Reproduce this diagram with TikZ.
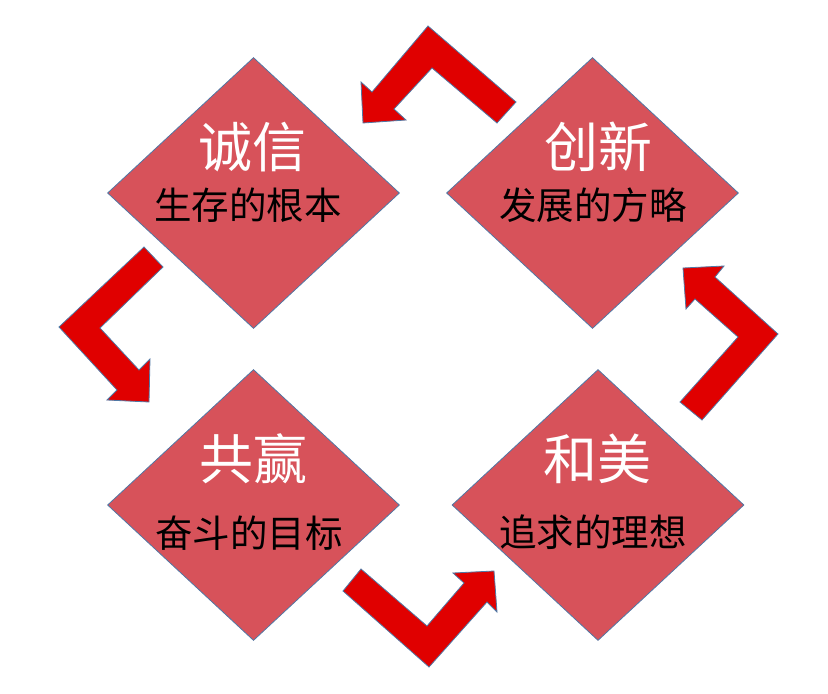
\documentclass[tikz,border=0pt]{standalone}
\usepackage{fontspec}
\newfontfamily\cjk{Noto Sans CJK SC}
\usetikzlibrary{shapes.geometric}
\definecolor{dfill}{RGB}{215,82,90}
\definecolor{edge}{RGB}{80,120,165}
\definecolor{arrred}{RGB}{224,0,0}
\tikzset{
  dia/.style={diamond, draw=edge, line width=0.8pt, fill=dfill, inner sep=0pt,
    minimum width=292pt, minimum height=271pt},
  ttl/.style={text=white, font=\cjk\fontsize{54}{58}\selectfont, inner sep=0pt},
  sub/.style={text=black, font=\cjk\fontsize{37.5}{41}\selectfont, inner sep=0pt},
  bent/.style={fill=arrred, draw=edge, line width=0.8pt, line join=miter}
}
\begin{document}
\begin{tikzpicture}[x=1pt,y=-1pt]
\useasboundingbox (0,0) rectangle (828,694);
% diamonds
\node[dia] (d1) at (253.5,193) {};
\node[dia] (d2) at (592.5,193) {};
\node[dia] (d3) at (253.5,505) {};
\node[dia] (d4) at (598,505) {};
% labels
\node[ttl] (t1) at (252,147) {诚信};
\node[sub] (s1) at (248,205) {生存的根本};
\node[ttl] (t2) at (598,147) {创新};
\node[sub] (s2) at (593,205) {发展的方略};
\node[ttl] (t3) at (253,459) {共赢};
\node[sub] (s3) at (249,533) {奋斗的目标};
\node[ttl] (t4) at (597.5,459) {和美};
\node[sub] (s4) at (593,532) {追求的理想};
% bent arrows
\draw[bent] (428,26) -- (516,102) -- (497,123) -- (432,68) -- (394,109)
  -- (406,120) -- (363,123) -- (361,82) -- (372,92) -- cycle;
\draw[bent] (59,327) -- (144,247) -- (163,267) -- (100,328) -- (139,370)
  -- (150,359) -- (149,402) -- (107,400) -- (117,390) -- cycle;
\draw[bent] (361,569) -- (427,626) -- (464,583) -- (453,573) -- (494,571)
  -- (497,612) -- (487,602) -- (429,667) -- (343,591) -- cycle;
\draw[bent] (683,268) -- (724,266) -- (715,277) -- (778,334) -- (702,420)
  -- (680,402) -- (738,337) -- (695,299) -- (686,309) -- cycle;
\end{tikzpicture}
\end{document}
